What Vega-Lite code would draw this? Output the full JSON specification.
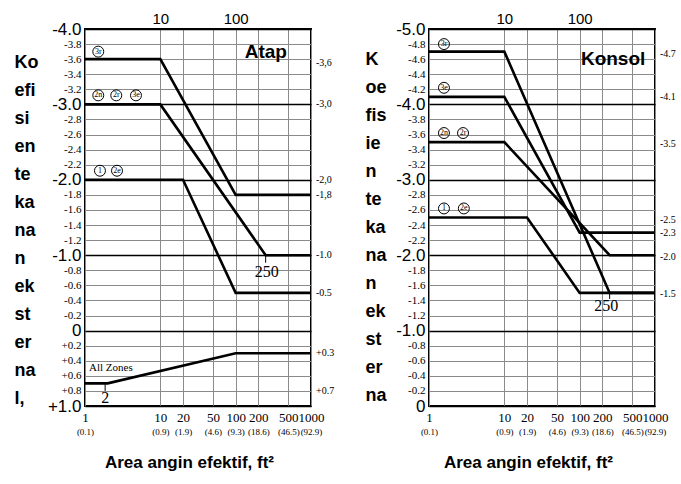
{
  "$schema": "https://vega.github.io/schema/vega-lite/v6.json",
  "padding": {"left": 13, "top": 10, "right": 0, "bottom": 0},
  "background": "white",
  "spacing": 28,
  "config": {
    "view": {"stroke": "black", "strokeWidth": 2},
    "axis": {"labelColor": "black", "titleColor": "black"}
  },
  "datasets": {
    "L_lines": [
      {"s": "a", "i": 0, "x": 1, "y": -3.6}, {"s": "a", "i": 1, "x": 10, "y": -3.6}, {"s": "a", "i": 2, "x": 100, "y": -1.8}, {"s": "a", "i": 3, "x": 1000, "y": -1.8},
      {"s": "b", "i": 0, "x": 1, "y": -3.0}, {"s": "b", "i": 1, "x": 10, "y": -3.0}, {"s": "b", "i": 2, "x": 250, "y": -1.0}, {"s": "b", "i": 3, "x": 1000, "y": -1.0},
      {"s": "c", "i": 0, "x": 1, "y": -2.0}, {"s": "c", "i": 1, "x": 20, "y": -2.0}, {"s": "c", "i": 2, "x": 100, "y": -0.5}, {"s": "c", "i": 3, "x": 1000, "y": -0.5},
      {"s": "d", "i": 0, "x": 1, "y": 0.7}, {"s": "d", "i": 1, "x": 2, "y": 0.7}, {"s": "d", "i": 2, "x": 100, "y": 0.3}, {"s": "d", "i": 3, "x": 1000, "y": 0.3}
    ],
    "L_circ": [
      {"x": 1.5, "y": -3.7, "t": "3r"}, {"x": 1.5, "y": -3.12, "t": "2n"}, {"x": 2.6, "y": -3.12, "t": "2r"}, {"x": 4.75, "y": -3.12, "t": "3e"},
      {"x": 1.58, "y": -2.12, "t": "1"}, {"x": 2.66, "y": -2.12, "t": "2e"}
    ],
    "L_right": [
      {"x": 1000, "y": -3.55, "t": "-3,6"}, {"x": 1000, "y": -3.0, "t": "-3,0"}, {"x": 1000, "y": -2.0, "t": "-2,0"}, {"x": 1000, "y": -1.8, "t": "-1,8"},
      {"x": 1000, "y": -1.0, "t": "-1.0"}, {"x": 1000, "y": -0.5, "t": "-0.5"}, {"x": 1000, "y": 0.3, "t": "+0.3"}, {"x": 1000, "y": 0.8, "t": "+0.7"}
    ],
    "L_big": [{"x": 251, "y": -3.7, "t": "Atap"}],
    "L_num": [{"x": 1.85, "y": 0.9, "t": "2"}, {"x": 259, "y": -0.78, "t": "250"}],
    "L_small": [{"x": 1.13, "y": 0.5, "t": "All Zones"}],
    "L_ticks": [{"x": 1.85, "y": 0.7, "y2": 0.8}, {"x": 250, "y": -1.0, "y2": -0.9}],
    "R_lines": [
      {"s": "a", "i": 0, "x": 1, "y": -4.7}, {"s": "a", "i": 1, "x": 10, "y": -4.7}, {"s": "a", "i": 2, "x": 250, "y": -1.5}, {"s": "a", "i": 3, "x": 1000, "y": -1.5},
      {"s": "b", "i": 0, "x": 1, "y": -4.1}, {"s": "b", "i": 1, "x": 10, "y": -4.1}, {"s": "b", "i": 2, "x": 100, "y": -2.3}, {"s": "b", "i": 3, "x": 1000, "y": -2.3},
      {"s": "c", "i": 0, "x": 1, "y": -3.5}, {"s": "c", "i": 1, "x": 10, "y": -3.5}, {"s": "c", "i": 2, "x": 250, "y": -2.0}, {"s": "c", "i": 3, "x": 1000, "y": -2.0},
      {"s": "d", "i": 0, "x": 1, "y": -2.5}, {"s": "d", "i": 1, "x": 20, "y": -2.5}, {"s": "d", "i": 2, "x": 100, "y": -1.5}, {"s": "d", "i": 3, "x": 1000, "y": -1.5}
    ],
    "R_circ": [
      {"x": 1.58, "y": -4.8, "t": "3r"}, {"x": 1.58, "y": -4.22, "t": "3e"}, {"x": 1.58, "y": -3.62, "t": "2n"}, {"x": 2.83, "y": -3.62, "t": "2r"},
      {"x": 1.58, "y": -2.62, "t": "1"}, {"x": 2.9, "y": -2.62, "t": "2e"}
    ],
    "R_right": [
      {"x": 1000, "y": -4.67, "t": "-4.7"}, {"x": 1000, "y": -4.1, "t": "-4.1"}, {"x": 1000, "y": -3.47, "t": "-3.5"}, {"x": 1000, "y": -2.47, "t": "-2.5"},
      {"x": 1000, "y": -2.29, "t": "-2.3"}, {"x": 1000, "y": -1.97, "t": "-2.0"}, {"x": 1000, "y": -1.49, "t": "-1.5"}
    ],
    "R_big": [{"x": 278, "y": -4.6, "t": "Konsol"}],
    "R_num": [{"x": 226, "y": -1.32, "t": "250"}],
    "R_ticks": [{"x": 250, "y": -1.5, "y2": -1.42}]
  },
  "hconcat": [
    {
      "width": 226,
      "height": 377,
      "resolve": {"axis": {"x": "independent", "y": "independent"}},
      "layer": [
        {
          "data": {"name": "L_lines"},
          "mark": {"type": "line", "color": "black", "strokeWidth": 2.6},
          "encoding": {
            "x": {"field": "x", "type": "quantitative", "scale": {"type": "log", "domain": [1, 1000], "nice": false},
              "axis": {"orient": "bottom", "values": [1, 10, 20, 50, 100, 200, 500, 1000], "labelExpr": "'' + datum.value",
                "labelFont": "Liberation Serif", "labelFontSize": 13, "labelPadding": 5, "ticks": false, "domain": false,
                "labelFlush": false, "labelOverlap": false, "grid": true, "gridColor": "#8a8a8a", "gridWidth": 1,
                "title": "Area angin efektif, ft²", "titleFont": "Liberation Sans", "titleFontSize": 17, "titleFontWeight": "bold",
                "titleX": 104, "titleY": 56, "titleAlign": "center", "titleBaseline": "middle"}},
            "y": {"field": "y", "type": "quantitative", "scale": {"domain": [-4, 1], "reverse": true, "nice": false, "zero": false},
              "axis": {"orient": "left", "values": [-3.8, -3.6, -3.4, -3.2, -2.8, -2.6, -2.4, -2.2, -1.8, -1.6, -1.4, -1.2, -0.8, -0.6, -0.4, -0.2, 0.2, 0.4, 0.6, 0.8],
                "labelExpr": "(datum.value < 0 ? '-' : '+') + format(abs(datum.value), '.1f')",
                "labelFont": "Liberation Serif", "labelFontSize": 11,
                "labelPadding": 4, "ticks": false, "domain": false, "labelOverlap": false, "labelFlush": false,
                "grid": true, "gridColor": "#8a8a8a", "gridWidth": 1, "title": null}},
            "detail": {"field": "s"},
            "order": {"field": "i", "type": "quantitative"}
          }
        },
        {
          "data": {"name": "L_circ"},
          "mark": {"type": "point", "shape": "circle", "filled": false, "stroke": "black", "strokeWidth": 1, "size": 120, "opacity": 1},
          "encoding": {
            "x": {"field": "x", "type": "quantitative", "scale": {"type": "log", "domain": [1, 1000], "nice": false},
              "axis": {"orient": "bottom", "values": [1, 10, 20, 50, 100, 200, 500, 1000],
                "labelExpr": "datum.value == 1 ? '(0.1)' : datum.value == 10 ? '(0.9)' : datum.value == 20 ? '(1.9)' : datum.value == 50 ? '(4.6)' : datum.value == 100 ? '(9.3)' : datum.value == 200 ? '(18.6)' : datum.value == 500 ? '(46.5)' : '(92.9)'",
                "labelFont": "Liberation Serif", "labelFontSize": 9, "labelPadding": 21, "ticks": false, "domain": false,
                "labelFlush": false, "labelOverlap": false, "grid": false, "title": null}},
            "y": {"field": "y", "type": "quantitative", "scale": {"domain": [-4, 1], "reverse": true, "nice": false, "zero": false},
              "axis": {"orient": "left", "values": [-4, -3, -2, -1, 0, 1],
                "labelExpr": "abs(datum.value) < 0.001 ? '0' : (datum.value < 0 ? '-' : '+') + format(abs(datum.value), '.1f')",
                "labelFont": "Liberation Sans Narrow, Liberation Sans", "labelFontSize": 17,
                "labelPadding": 4, "ticks": false, "domain": false, "labelOverlap": false, "labelFlush": false,
                "grid": true, "gridColor": "black", "gridWidth": 1.6,
                "title": ["Ko", "efi", "si", "en", "te", "ka", "na", "n", "ek", "st", "er", "na", "l,"],
                "titleAngle": 0, "titleAlign": "left", "titleBaseline": "alphabetic", "titleX": -71, "titleY": 38,
                "titleFont": "Liberation Sans", "titleFontSize": 18, "titleFontWeight": "bold", "titleLineHeight": 28}}
          }
        },
        {
          "data": {"name": "L_circ"},
          "mark": {"type": "text", "font": "Liberation Serif", "fontSize": 8, "color": "black", "align": "center", "baseline": "middle"},
          "encoding": {
            "x": {"field": "x", "type": "quantitative", "scale": {"type": "log", "domain": [1, 1000], "nice": false},
              "axis": {"orient": "top", "values": [10, 100], "labelExpr": "'' + datum.value",
                "labelFont": "Liberation Sans Narrow, Liberation Sans", "labelFontSize": 15, "labelPadding": 3, "ticks": false, "domain": false,
                "labelFlush": false, "labelOverlap": false, "grid": false, "title": null}},
            "y": {"field": "y", "type": "quantitative", "scale": {"domain": [-4, 1], "reverse": true, "nice": false, "zero": false}, "axis": null},
            "text": {"field": "t"}
          }
        },
        {
          "data": {"name": "L_right"},
          "mark": {"type": "text", "font": "Liberation Serif", "fontSize": 10, "color": "black", "align": "left", "baseline": "middle", "dx": 5},
          "encoding": {
            "x": {"field": "x", "type": "quantitative", "scale": {"type": "log", "domain": [1, 1000], "nice": false}, "axis": null},
            "y": {"field": "y", "type": "quantitative", "scale": {"domain": [-4, 1], "reverse": true, "nice": false, "zero": false}, "axis": null},
            "text": {"field": "t"}
          }
        },
        {
          "data": {"name": "L_big"},
          "mark": {"type": "text", "font": "Liberation Sans", "fontSize": 19, "fontWeight": "bold", "color": "black", "align": "center", "baseline": "middle"},
          "encoding": {
            "x": {"field": "x", "type": "quantitative", "scale": {"type": "log", "domain": [1, 1000], "nice": false}, "axis": null},
            "y": {"field": "y", "type": "quantitative", "scale": {"domain": [-4, 1], "reverse": true, "nice": false, "zero": false}, "axis": null},
            "text": {"field": "t"}
          }
        },
        {
          "data": {"name": "L_num"},
          "mark": {"type": "text", "font": "Liberation Serif", "fontSize": 16, "color": "black", "align": "center", "baseline": "middle"},
          "encoding": {
            "x": {"field": "x", "type": "quantitative", "scale": {"type": "log", "domain": [1, 1000], "nice": false}, "axis": null},
            "y": {"field": "y", "type": "quantitative", "scale": {"domain": [-4, 1], "reverse": true, "nice": false, "zero": false}, "axis": null},
            "text": {"field": "t"}
          }
        },
        {
          "data": {"name": "L_small"},
          "mark": {"type": "text", "font": "Liberation Serif", "fontSize": 11, "color": "black", "align": "left", "baseline": "middle"},
          "encoding": {
            "x": {"field": "x", "type": "quantitative", "scale": {"type": "log", "domain": [1, 1000], "nice": false}, "axis": null},
            "y": {"field": "y", "type": "quantitative", "scale": {"domain": [-4, 1], "reverse": true, "nice": false, "zero": false}, "axis": null},
            "text": {"field": "t"}
          }
        },
        {
          "data": {"name": "L_ticks"},
          "mark": {"type": "rule", "color": "black", "strokeWidth": 1},
          "encoding": {
            "x": {"field": "x", "type": "quantitative", "scale": {"type": "log", "domain": [1, 1000], "nice": false}, "axis": null},
            "y": {"field": "y", "type": "quantitative", "scale": {"domain": [-4, 1], "reverse": true, "nice": false, "zero": false}, "axis": null},
            "y2": {"field": "y2"}
          }
        }
      ]
    },
    {
      "width": 226,
      "height": 377,
      "resolve": {"axis": {"x": "independent", "y": "independent"}},
      "layer": [
        {
          "data": {"name": "R_lines"},
          "mark": {"type": "line", "color": "black", "strokeWidth": 2.6},
          "encoding": {
            "x": {"field": "x", "type": "quantitative", "scale": {"type": "log", "domain": [1, 1000], "nice": false},
              "axis": {"orient": "bottom", "values": [1, 10, 20, 50, 100, 200, 500, 1000], "labelExpr": "'' + datum.value",
                "labelFont": "Liberation Serif", "labelFontSize": 13, "labelPadding": 5, "ticks": false, "domain": false,
                "labelFlush": false, "labelOverlap": false, "grid": true, "gridColor": "#8a8a8a", "gridWidth": 1,
                "title": "Area angin efektif, ft²", "titleFont": "Liberation Sans", "titleFontSize": 17, "titleFontWeight": "bold",
                "titleX": 99, "titleY": 56, "titleAlign": "center", "titleBaseline": "middle"}},
            "y": {"field": "y", "type": "quantitative", "scale": {"domain": [-5, 0], "reverse": true, "nice": false, "zero": false},
              "axis": {"orient": "left", "values": [-4.8, -4.6, -4.4, -4.2, -3.8, -3.6, -3.4, -3.2, -2.8, -2.6, -2.4, -2.2, -1.8, -1.6, -1.4, -1.2, -0.8, -0.6, -0.4, -0.2],
                "labelExpr": "(datum.value < 0 ? '-' : '+') + format(abs(datum.value), '.1f')",
                "labelFont": "Liberation Serif", "labelFontSize": 11,
                "labelPadding": 4, "ticks": false, "domain": false, "labelOverlap": false, "labelFlush": false,
                "grid": true, "gridColor": "#8a8a8a", "gridWidth": 1, "title": null}},
            "detail": {"field": "s"},
            "order": {"field": "i", "type": "quantitative"}
          }
        },
        {
          "data": {"name": "R_circ"},
          "mark": {"type": "point", "shape": "circle", "filled": false, "stroke": "black", "strokeWidth": 1, "size": 120, "opacity": 1},
          "encoding": {
            "x": {"field": "x", "type": "quantitative", "scale": {"type": "log", "domain": [1, 1000], "nice": false},
              "axis": {"orient": "bottom", "values": [1, 10, 20, 50, 100, 200, 500, 1000],
                "labelExpr": "datum.value == 1 ? '(0.1)' : datum.value == 10 ? '(0.9)' : datum.value == 20 ? '(1.9)' : datum.value == 50 ? '(4.6)' : datum.value == 100 ? '(9.3)' : datum.value == 200 ? '(18.6)' : datum.value == 500 ? '(46.5)' : '(92.9)'",
                "labelFont": "Liberation Serif", "labelFontSize": 9, "labelPadding": 21, "ticks": false, "domain": false,
                "labelFlush": false, "labelOverlap": false, "grid": false, "title": null}},
            "y": {"field": "y", "type": "quantitative", "scale": {"domain": [-5, 0], "reverse": true, "nice": false, "zero": false},
              "axis": {"orient": "left", "values": [-5, -4, -3, -2, -1, 0],
                "labelExpr": "abs(datum.value) < 0.001 ? '0' : (datum.value < 0 ? '-' : '+') + format(abs(datum.value), '.1f')",
                "labelFont": "Liberation Sans Narrow, Liberation Sans", "labelFontSize": 17,
                "labelPadding": 4, "ticks": false, "domain": false, "labelOverlap": false, "labelFlush": false,
                "grid": true, "gridColor": "black", "gridWidth": 1.6,
                "title": ["K", "oe", "fis", "ie", "n", "te", "ka", "na", "n", "ek", "st", "er", "na"],
                "titleAngle": 0, "titleAlign": "left", "titleBaseline": "alphabetic", "titleX": -64, "titleY": 35,
                "titleFont": "Liberation Sans", "titleFontSize": 18, "titleFontWeight": "bold", "titleLineHeight": 28}}
          }
        },
        {
          "data": {"name": "R_circ"},
          "mark": {"type": "text", "font": "Liberation Serif", "fontSize": 8, "color": "black", "align": "center", "baseline": "middle"},
          "encoding": {
            "x": {"field": "x", "type": "quantitative", "scale": {"type": "log", "domain": [1, 1000], "nice": false},
              "axis": {"orient": "top", "values": [10, 100], "labelExpr": "'' + datum.value",
                "labelFont": "Liberation Sans Narrow, Liberation Sans", "labelFontSize": 15, "labelPadding": 3, "ticks": false, "domain": false,
                "labelFlush": false, "labelOverlap": false, "grid": false, "title": null}},
            "y": {"field": "y", "type": "quantitative", "scale": {"domain": [-5, 0], "reverse": true, "nice": false, "zero": false}, "axis": null},
            "text": {"field": "t"}
          }
        },
        {
          "data": {"name": "R_right"},
          "mark": {"type": "text", "font": "Liberation Serif", "fontSize": 10, "color": "black", "align": "left", "baseline": "middle", "dx": 5},
          "encoding": {
            "x": {"field": "x", "type": "quantitative", "scale": {"type": "log", "domain": [1, 1000], "nice": false}, "axis": null},
            "y": {"field": "y", "type": "quantitative", "scale": {"domain": [-5, 0], "reverse": true, "nice": false, "zero": false}, "axis": null},
            "text": {"field": "t"}
          }
        },
        {
          "data": {"name": "R_big"},
          "mark": {"type": "text", "font": "Liberation Sans", "fontSize": 19, "fontWeight": "bold", "color": "black", "align": "center", "baseline": "middle"},
          "encoding": {
            "x": {"field": "x", "type": "quantitative", "scale": {"type": "log", "domain": [1, 1000], "nice": false}, "axis": null},
            "y": {"field": "y", "type": "quantitative", "scale": {"domain": [-5, 0], "reverse": true, "nice": false, "zero": false}, "axis": null},
            "text": {"field": "t"}
          }
        },
        {
          "data": {"name": "R_num"},
          "mark": {"type": "text", "font": "Liberation Serif", "fontSize": 16, "color": "black", "align": "center", "baseline": "middle"},
          "encoding": {
            "x": {"field": "x", "type": "quantitative", "scale": {"type": "log", "domain": [1, 1000], "nice": false}, "axis": null},
            "y": {"field": "y", "type": "quantitative", "scale": {"domain": [-5, 0], "reverse": true, "nice": false, "zero": false}, "axis": null},
            "text": {"field": "t"}
          }
        },
        {
          "data": {"name": "R_ticks"},
          "mark": {"type": "rule", "color": "black", "strokeWidth": 1},
          "encoding": {
            "x": {"field": "x", "type": "quantitative", "scale": {"type": "log", "domain": [1, 1000], "nice": false}, "axis": null},
            "y": {"field": "y", "type": "quantitative", "scale": {"domain": [-5, 0], "reverse": true, "nice": false, "zero": false}, "axis": null},
            "y2": {"field": "y2"}
          }
        }
      ]
    }
  ]
}
